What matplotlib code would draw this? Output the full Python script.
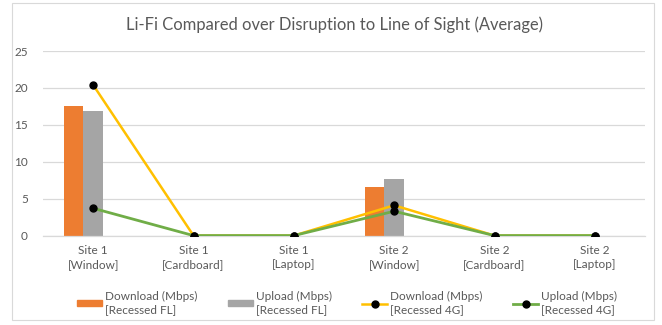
import matplotlib
matplotlib.use("Agg")
import matplotlib.pyplot as plt
from matplotlib.lines import Line2D
from matplotlib.patches import Patch, Rectangle
import numpy as np

plt.rcParams['font.family'] = ['Lato', 'DejaVu Sans']

categories = ["Site 1\n[Window]", "Site 1\n[Cardboard]", "Site 1\n[Laptop]",
              "Site 2\n[Window]", "Site 2\n[Cardboard]", "Site 2\n[Laptop]"]
download_fl = [17.5, None, None, 6.6, None, None]
upload_fl = [16.9, None, None, 7.6, None, None]
download_4g = [20.4, 0, 0, 4.1, 0, 0]
upload_4g = [3.7, 0, 0, 3.3, 0, 0]
yticks = [0, 5, 10, 15, 20, 25]

series_labels = ["Download (Mbps)\n[Recessed FL]", "Upload (Mbps)\n[Recessed FL]",
                 "Download (Mbps)\n[Recessed 4G]", "Upload (Mbps)\n[Recessed 4G]"]

ORANGE = "#ED7D31"
GRAY = "#A5A5A5"
YELLOW = "#FFC000"
GREEN = "#70AD47"
TEXT = "#595959"
GRID = "#D9D9D9"

W, H = 662, 325
fig = plt.figure(figsize=(W / 100, H / 100), dpi=100)
fig.patch.set_facecolor("white")

# chart border
fig.add_artist(Rectangle((12 / W, 1 - 320 / H), 642 / W, 317 / H,
                         transform=fig.transFigure, fill=False,
                         edgecolor=GRID, linewidth=0.8))

ax = fig.add_axes([43 / W, 1 - 235.6 / H, 602 / W, (235.6 - 51) / H])
x = np.arange(len(categories))
bw = 0.193

dl = np.array([v if v is not None else np.nan for v in download_fl], dtype=float)
ul = np.array([v if v is not None else np.nan for v in upload_fl], dtype=float)
ax.bar(x - bw, dl, width=bw, color=ORANGE, zorder=2)
ax.bar(x, ul, width=bw, color=GRAY, zorder=2)

ax.plot(x, download_4g, color=YELLOW, lw=1.8, marker="o", ms=5,
        mfc="black", mec="black", zorder=3)
ax.plot(x, upload_4g, color=GREEN, lw=2.0, marker="o", ms=5,
        mfc="black", mec="black", zorder=4)

ax.set_xlim(-0.5, len(categories) - 0.5)
ax.set_ylim(0, 25)
ax.set_yticks(yticks)
ax.set_xticks(x)
ax.set_xticklabels(categories, fontsize=8.5, color=TEXT, linespacing=1.35)
ax.tick_params(axis="y", labelsize=8.5, labelcolor=TEXT, length=0, pad=11)
ax.tick_params(axis="x", length=0, pad=7)
ax.grid(axis="y", color=GRID, lw=0.9, zorder=0)
for s in ["top", "right", "left"]:
    ax.spines[s].set_visible(False)
ax.spines["bottom"].set_color(GRID)
ax.spines["bottom"].set_linewidth(0.9)

fig.text(335 / W, 1 - 25 / H, "Li-Fi Compared over Disruption to Line of Sight (Average)",
         ha="center", va="center", fontsize=11.9, color=TEXT)

handles = [Patch(color=ORANGE), Patch(color=GRAY),
           Line2D([], [], color=YELLOW, lw=1.8, marker="o", ms=5, mfc="black", mec="black"),
           Line2D([], [], color=GREEN, lw=2.0, marker="o", ms=5, mfc="black", mec="black")]
leg = fig.legend(handles, series_labels, loc="center", ncol=4,
                 bbox_to_anchor=(347 / W, 1 - 303 / H), frameon=False,
                 fontsize=8.5, handlelength=2.1, handleheight=0.4,
                 handletextpad=0.25, columnspacing=2.6, labelcolor=TEXT)
for t in leg.get_texts():
    t.set_linespacing(1.3)

fig.savefig("out.png", dpi=100)
